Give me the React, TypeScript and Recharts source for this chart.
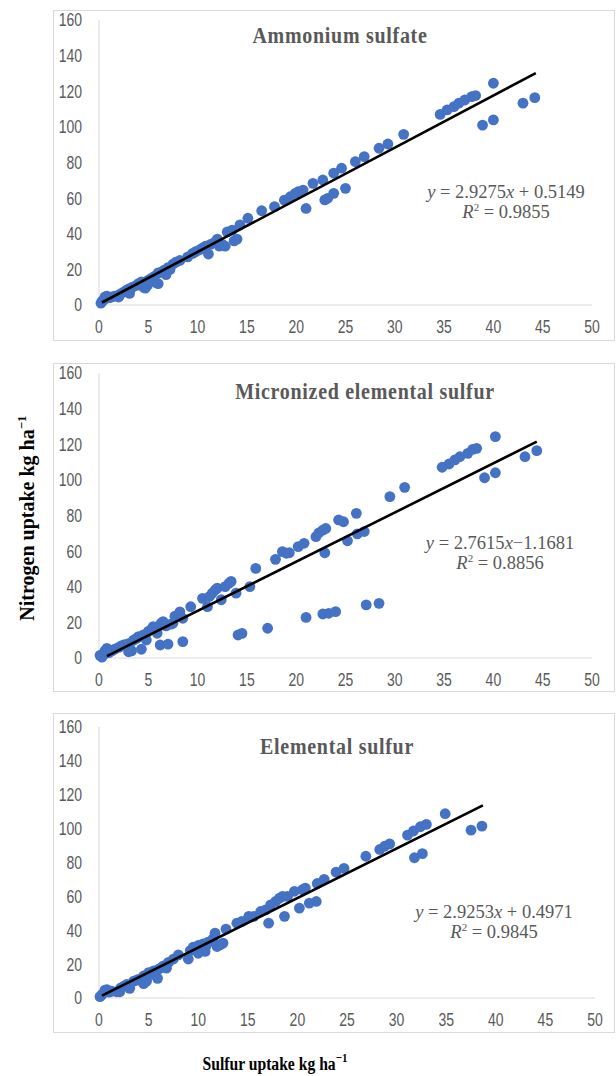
import React from "react";
import { ScatterChart, Scatter, XAxis, YAxis } from "recharts";

// [sulfur uptake, nitrogen uptake] pairs
const ammoniumSulfate = [
  [0.2, 1], [0.3, 2], [0.5, 3], [0.6, 4.5], [0.8, 5], [1, 4], [1.3, 4.5], [1.6, 5], [2, 4.5], [2.1, 6],
  [2.4, 7], [2.7, 8], [3, 9], [3.1, 6.5], [3.4, 10], [3.8, 11], [4, 12], [4.3, 13], [4.5, 10], [4.7, 9.5],
  [4.9, 11], [5, 14], [5.3, 15], [5.6, 16], [5.8, 12.5], [6, 12], [6, 18], [6.3, 18.5], [6.6, 19.5], [6.8, 17],
  [7, 21], [7.2, 20], [7.5, 23], [7.8, 24], [8.2, 25], [9, 27], [9.5, 29], [9.8, 30], [10.2, 31], [10.5, 32],
  [10.8, 33], [11.1, 28.6], [11.3, 34], [11.7, 35], [12, 37], [12.2, 33], [12.5, 34], [12.8, 33], [13, 41], [13.5, 42],
  [13.7, 36], [14, 37], [14.3, 45], [15.1, 48.7], [16.5, 52.9], [17.8, 55.2], [18.8, 58.9], [19.4, 60.8], [19.9, 62.7], [20.2, 63.6],
  [20.7, 64.5], [21, 54.2], [21.7, 68.3], [22.7, 70.2], [22.9, 59], [23.2, 59.9], [23.8, 62.7], [23.8, 74], [24.6, 76.8], [25, 65.5],
  [26, 80.5], [26.9, 83.3], [28.4, 88], [29.3, 90.4], [30.9, 95.8], [34.6, 107], [35.3, 109.5], [36, 111.4], [36.5, 113.3], [37.1, 115.1],
  [37.8, 117], [38.2, 117.6], [38.9, 101], [40, 103.9], [40, 124.5], [43, 113.3], [44.2, 116.4],
];

const micronizedSulfur = [
  [0.1, 1.5], [0.3, 0.5], [0.5, 2], [0.6, 4], [0.8, 5.4], [1, 3], [1.3, 4], [1.6, 5], [2, 6], [2.3, 7],
  [2.6, 7.5], [3, 8], [3, 3.5], [3.1, 6], [3.3, 4], [3.5, 10], [3.8, 11], [4, 12], [4.3, 4.9], [4.5, 13],
  [4.8, 10.1], [5, 15], [5.3, 16], [5.5, 17.6], [5.9, 13.9], [6, 17.6], [6.2, 7.3], [6.3, 19.5], [6.5, 20.4], [6.8, 18],
  [7, 7.8], [7.3, 19], [7.5, 19.5], [7.7, 23.5], [8.2, 25.9], [8.5, 22.3], [8.5, 9.2], [9.3, 28.8], [10.5, 33.5], [11, 28.8],
  [11.2, 34.5], [11.5, 36.4], [11.8, 38.3], [12, 39.2], [12.4, 32.7], [12.8, 40.1], [13.2, 42], [13.4, 43], [13.9, 36.4], [14.1, 12.9],
  [14.5, 13.8], [15.3, 40.1], [15.9, 50.3], [17.1, 16.7], [17.9, 55.4], [18.6, 59.7], [19, 58.8], [19.3, 59.1], [20.2, 62.5], [20.8, 64.4],
  [21, 22.8], [22, 68.1], [22.3, 70.3], [22.7, 71.8], [23, 72.7], [22.9, 59.1], [22.7, 24.7], [23.3, 25.1], [24, 26], [24.3, 77.5],
  [24.8, 76.5], [25.2, 65.8], [26.1, 81.2], [26.2, 69.7], [26.9, 71], [27.1, 29.8], [28.4, 30.7], [29.5, 90.6], [31, 95.8], [34.8, 107.1],
  [35.5, 108.9], [36.1, 111.2], [36.6, 113], [37.4, 114.9], [37.9, 117.1], [38.3, 117.7], [39.1, 101.2], [40.2, 104], [40.2, 124.3], [43.2, 113],
  [44.4, 116.4],
];

const elementalSulfur = [
  [0.1, 0.8], [0.3, 2], [0.6, 4.7], [0.8, 5], [1, 3.5], [1.3, 4], [1.8, 3.7], [2.1, 3.7], [2.2, 6], [2.5, 7],
  [2.8, 8], [3.1, 5.7], [3.5, 10], [3.8, 10.5], [4, 11], [4.5, 13], [4.5, 8.5], [4.8, 10], [5, 15], [5.3, 14],
  [5.5, 16], [5.9, 11.6], [6, 17], [6.3, 18], [6.5, 19], [6.8, 17.6], [7, 21], [7.5, 23], [8, 25.5], [9, 23],
  [9.2, 28], [9.5, 30], [10, 31], [10, 26.4], [10.5, 32], [10.7, 27.5], [10.8, 30.8], [11, 33], [11.5, 35], [11.7, 38.3],
  [11.9, 30.4], [12.2, 31.4], [12.5, 32.4], [12.8, 40.7], [13.9, 44.2], [14.4, 45.2], [15.1, 48.2], [15.6, 48.2], [16.3, 51.1], [16.8, 52],
  [17.1, 44.2], [17.3, 55], [17.8, 57], [18.2, 59], [18.5, 60], [18.7, 48.2], [19, 60], [19.7, 63], [20.2, 53.1], [20.5, 63.9],
  [20.8, 64.9], [21.2, 56], [21.9, 57], [22, 67.6], [22.7, 70], [23.9, 74.3], [24.7, 76.5], [26.9, 83.7], [28.3, 87.7], [28.8, 89.6],
  [29.3, 91], [31.1, 96.2], [31.7, 98.6], [32.4, 101.1], [33, 102.5], [31.8, 82.8], [32.6, 85.2], [34.9, 108.8], [37.5, 99.1], [38.6, 101.5],
];

// linear fits shown on each panel, and the x span of the drawn trend line
const fits = [
  { slope: 2.9275, intercept: 0.5149, from: 0.3, to: 44.3 },
  { slope: 2.7615, intercept: -1.1681, from: 0.8, to: 44.4 },
  { slope: 2.9253, intercept: 0.4971, from: 0.3, to: 38.7 },
];

const xTicks = [0, 5, 10, 15, 20, 25, 30, 35, 40, 45, 50];
const yTicks = [0, 20, 40, 60, 80, 100, 120, 140, 160];

const BLUE = "#4472C4";
const AXIS = "#d9d9d9";
const GREY_TEXT = "#595959";
const SERIF = "'Liberation Serif', 'Times New Roman', serif";
const SANS = "'Liberation Sans', Arial, sans-serif";

const dot = (p: any) => <circle cx={p.cx} cy={p.cy} r={5.4} fill={BLUE} />;
const noDot = () => <g />;

// tick text is a bit tall and narrow in the source image, so stretch it vertically
const tickText = (anchor: "end" | "middle", dy: string) => (p: any) => (
  <g transform={`translate(${p.x},${p.y}) scale(1,1.28)`}>
    <text x={0} y={0} dy={dy} textAnchor={anchor} fill={GREY_TEXT} fontSize={14} fontFamily={SANS}>
      {p.payload.value}
    </text>
  </g>
);
const xTick = tickText("middle", "0.71em");
const yTick = tickText("end", "0.36em");

function Panel({ points, fit, top, height, margin, title, titleX, titleY, eq, r2, eqX, eqY }: any) {
  const data = points.map(([x, y]: number[]) => ({ x, y }));
  const trend = [fit.from, fit.to].map((x: number) => ({ x, y: fit.slope * x + fit.intercept }));

  return (
    <>
      <div
        style={{
          position: "absolute",
          left: 53,
          top,
          width: 562,
          height,
          border: `1px solid ${AXIS}`,
          boxSizing: "border-box",
        }}
      >
        <ScatterChart width={560} height={height - 2} margin={margin}>
          <XAxis
            type="number"
            dataKey="x"
            domain={[0, 50]}
            ticks={xTicks}
            interval={0}
            height={30}
            stroke={AXIS}
            tickLine={false}
            tickSize={0}
            tickMargin={15}
            tick={xTick}
          />
          <YAxis
            type="number"
            dataKey="y"
            domain={[0, 160]}
            ticks={yTicks}
            interval={0}
            width={45}
            stroke={AXIS}
            tickLine={false}
            tickSize={0}
            tickMargin={17}
            tick={yTick}
          />
          <Scatter data={data} shape={dot} isAnimationActive={false} />
          <Scatter
            data={trend}
            shape={noDot}
            line={{ stroke: "#000", strokeWidth: 2.6 }}
            isAnimationActive={false}
          />
        </ScatterChart>
      </div>
      <div
        style={{
          position: "absolute",
          left: titleX,
          top: titleY,
          transform: "translate(-50%, -50%) scale(1, 1.15)",
          whiteSpace: "nowrap",
          fontFamily: SERIF,
          fontWeight: "bold",
          fontSize: 20,
          letterSpacing: 0.7,
          color: GREY_TEXT,
        }}
      >
        {title}
      </div>
      <div
        style={{
          position: "absolute",
          left: eqX,
          top: eqY,
          transform: "translate(-50%, -50%)",
          whiteSpace: "nowrap",
          textAlign: "center",
          fontFamily: SERIF,
          fontSize: 18.5,
          lineHeight: "20px",
          color: GREY_TEXT,
        }}
      >
        <div>{eq}</div>
        <div>
          <i>R</i>
          <sup style={{ fontSize: 11, lineHeight: 0 }}>2</sup> = {r2}
        </div>
      </div>
    </>
  );
}

export default function App() {
  return (
    <div
      style={{
        position: "absolute",
        left: 0,
        top: 0,
        width: 616,
        height: 1076,
        background: "#fff",
        overflow: "hidden",
      }}
    >
      <Panel
        points={ammoniumSulfate}
        fit={fits[0]}
        top={10}
        height={331}
        margin={{ top: 9, right: 22, left: 0, bottom: 5 }}
        title="Ammonium sulfate"
        titleX={340}
        titleY={36}
        eq={<><i>y</i> = 2.9275<i>x</i> + 0.5149</>}
        r2="0.9855"
        eqX={506}
        eqY={202}
      />
      <Panel
        points={micronizedSulfur}
        fit={fits[1]}
        top={363}
        height={329}
        margin={{ top: 9, right: 22, left: 0, bottom: 3 }}
        title="Micronized elemental sulfur"
        titleX={365}
        titleY={392}
        eq={<><i>y</i> = 2.7615<i>x</i>−1.1681</>}
        r2="0.8856"
        eqX={500}
        eqY={553}
      />
      <Panel
        points={elementalSulfur}
        fit={fits[2]}
        top={713}
        height={320}
        margin={{ top: 13, right: 19, left: 0, bottom: 4 }}
        title="Elemental sulfur"
        titleX={337}
        titleY={747}
        eq={<><i>y</i> = 2.9253<i>x</i> + 0.4971</>}
        r2="0.9845"
        eqX={494}
        eqY={922}
      />
      <div
        style={{
          position: "absolute",
          left: 27,
          top: 518,
          transform: "translate(-50%, -50%) rotate(-90deg)",
          whiteSpace: "nowrap",
          fontFamily: SERIF,
          fontWeight: "bold",
          fontSize: 20,
          color: "#000",
        }}
      >
        Nitrogen uptake kg ha<sup style={{ fontSize: 13, lineHeight: 0 }}>−1</sup>
      </div>
      <div
        style={{
          position: "absolute",
          left: 275,
          top: 1064,
          transform: "translate(-50%, -50%) scale(0.92, 1.1)",
          whiteSpace: "nowrap",
          fontFamily: SERIF,
          fontWeight: "bold",
          fontSize: 17,
          color: "#000",
        }}
      >
        Sulfur uptake kg ha<sup style={{ fontSize: 12, lineHeight: 0 }}>−1</sup>
      </div>
    </div>
  );
}
